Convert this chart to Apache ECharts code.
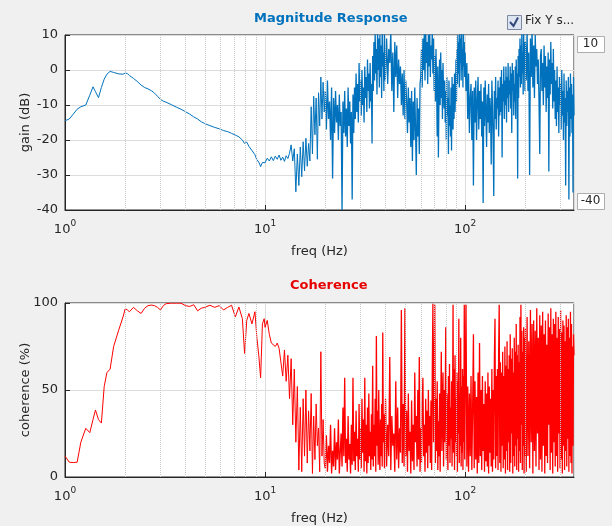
<!DOCTYPE html>
<html><head><meta charset="utf-8">
<script src="https://cdn.jsdelivr.net/npm/echarts@6/dist/echarts.min.js"></script>
<style>html,body{margin:0;padding:0;background:#f0f0f0;}#c{width:612px;height:526px;}</style>
</head><body><div id="c"></div>
<script>
// ---- frequency grid (Hz), shared by both plots ----
const freqLow = [1.0,1.05,1.1,1.15,1.2,1.27,1.33,1.38,1.42,1.47,1.52,1.57,1.62,1.68,1.75,1.85,1.95,2.0,2.05,2.1,2.2,2.3,2.4,2.5,2.6,2.7,2.8,2.9,3.0,3.1,3.2,3.4,3.6,3.8,4.0,4.2,4.4,4.6,4.8,5.0,5.3,5.6,5.9,6.2,6.5,6.8,7.1,7.4,7.7,7.9,8.1,8.3,8.6,8.9,9.1,9.3,9.5,9.7,9.9];
const freqMid = [10.0,10.25,10.5,10.75,11.0,11.25,11.5,11.75,12.0,12.25,12.5,12.75,13.0,13.25,13.5,13.75,14.0,14.25,14.5,14.75,15.0,15.25,15.5,15.75,16.0,16.25,16.5,16.75,17.0,17.25,17.5,17.75,18.0,18.25,18.5,18.75,19.0,19.25,19.5,19.75];
const freqC1 = [
 20,20.25,20.5,20.75,21,21.25,21.5,21.75,22,22.25,
 22.5,22.75,23,23.25,23.5,23.75,24,24.25,24.5,24.75,
 25,25.25,25.5,25.75,26,26.25,26.5,26.75,27,27.25,
 27.5,27.75,28,28.25,28.5,28.75,29,29.25,29.5,29.75,
 30,30.25,30.5,30.75,31,31.25,31.5,31.75,32,32.25,
 32.5,32.75,33,33.25,33.5,33.75,34,34.25,34.5,34.75,
 35,35.25,35.5,35.75,36,36.25,36.5,36.75,37,37.25,
 37.5,37.75,38,38.25,38.5,38.75,39,39.25,39.5,39.75];
const freqC2 = [
 40,40.5,41,41.5,42,42.5,43,43.5,44,44.5,
 45,45.5,46,46.5,47,47.5,48,48.5,49,49.5,
 50,50.5,51,51.5,52,52.5,53,53.5,54,54.5,
 55,55.5,56,56.5,57,57.5,58,58.5,59,59.5,
 60,60.5,61,61.5,62,62.5,63,63.5,64,64.5,
 65,65.5,66,66.5,67,67.5,68,68.5,69,69.5,
 70,70.5,71,71.5,72,72.5,73,73.5,74,74.5,
 75,75.5,76,76.5,77,77.5,78,78.5,79,79.5,
 80,80.5,81,81.5,82,82.5,83,83.5,84,84.5,
 85,85.5,86,86.5,87,87.5,88,88.5,89,89.5,
 90,90.5,91,91.5,92,92.5,93,93.5,94,94.5,
 95,95.5,96,96.5,97,97.5,98,98.5,99,99.5];
const freqC3 = [
 100,101,102,103,104,105,106,107,108,109,
 110,111,112,113,114,115,116,117,118,119,
 120,121,122,123,124,125,126,127,128,129,
 130,131,132,133,134,135,136,137,138,139,
 140,141,142,143,144,145,146,147,148,149,
 150,151,152,153,154,155,156,157,158,159,
 160,161,162,163,164,165,166,167,168,169,
 170,171,172,173,174,175,176,177,178,179,
 180,181,182,183,184,185,186,187,188,189,
 190,191,192,193,194,195,196,197,198,199];
const freqC4 = [
 200,202,204,206,208,210,212,214,216,218,
 220,222,224,226,228,230,232,234,236,238,
 240,242,244,246,248,250,252,254,256,258,
 260,262,264,266,268,270,272,274,276,278,
 280,282,284,286,288,290,292,294,296,298,
 300,302,304,306,308,310,312,314,316,318,
 320,322,324,326,328,330,332,334,336,338,
 340,342,344,346,348,350];

// ---- magnitude response (dB) ----
const gainLow = [-14.5,-14.0,-12.6,-11.2,-10.5,-10.0,-7.2,-4.8,-6.2,-7.9,-5.0,-2.6,-1.2,-0.4,-0.7,-1.1,-1.2,-0.9,-1.0,-1.6,-2.4,-3.3,-4.3,-5.0,-5.4,-5.9,-6.6,-7.5,-8.4,-8.9,-9.2,-9.9,-10.6,-11.2,-11.9,-12.6,-13.4,-14.0,-14.8,-15.3,-15.9,-16.4,-16.8,-17.3,-17.6,-18.1,-18.6,-19.1,-20.0,-21.0,-20.6,-21.8,-23.0,-24.2,-25.7,-26.3,-27.6,-26.4,-26.9];
const gainMid = [-26.5,-25.2,-26.0,-24.8,-25.9,-24.6,-25.5,-24.3,-25.8,-24.9,-26.1,-24.5,-25.3,-23.8,-21.4,-26.0,-22.5,-34.8,-24.0,-33.0,-22.0,-30.5,-20.5,-28.8,-19.5,-27.5,-21.0,-26.0,-10.5,-24.0,-7.5,-18.5,-8.0,-25.5,-6.5,-16.0,-2.0,-14.0,-3.5,-12.0];
const gainC1 = [
 -6,-17,-3,-14,-9,-20,-5,-31,-8,-18,
 -6,-15,-10,-20,-7,-16,-12,-40,-9,-18,
 -6,-19,-11,-22,-5,-16,-9,-21,-12,-37,
 -7,-18,-5,-14,-1,-12,-4,-15,2,-9,
 -3,-13,0,-10,-5,-15,1,-8,-2,-12,
 3,-6,-1,-11,2,-9,-4,-21,4,-6,
 8,-3,11,-1,6,-7,12,0,9,-5,
 10,-2,7,-8,12,1,5,-6,11,-3];
const gainC2 = [
 -1,9,-4,6,2,11,-6,5,-12,8,
 -2,7,-8,3,-4,1,-10,-1,-13,0,
 -14,-3,-9,-18,-5,-15,-8,-22,-6,-26,
 -9,-20,-5,-17,-30,-8,-19,-11,-24,-4,
 -2,6,-5,9,0,11,-3,12,2,8,
 -4,10,1,12,-2,7,3,11,-1,9,
 -6,4,-9,6,-4,-19,1,-25,-7,3,
 -10,5,-8,0,-14,2,-6,-11,-3,-15,
 -6,-20,-2,-13,-8,-24,-3,-16,-10,-19,
 -5,-23,-2,-11,-17,-4,-14,-1,-12,-6,
 3,-9,6,-4,10,-1,8,-5,12,2,
 9,-3,11,0,6,-5,13,1,8,-2];
const gainC3 = [
 5,-6,2,-14,-1,-18,-8,-4,-20,-6,
 -33,-5,-15,-3,-20,-9,-2,-17,-6,-14,
 -4,-19,-9,-38,-5,-16,-3,-12,-22,-7,
 -15,-4,-18,-8,-12,-27,-3,-10,-20,-36,
 -6,-14,-2,-17,-8,-11,-3,-19,-5,-13,
 -2,-12,0,-25,-4,-9,1,-14,-3,-10,
 1,-15,-2,-8,2,-12,-3,-7,1,-11,
 -1,-18,2,-6,0,-13,-4,-9,1,-14,
 3,-6,-1,-31,4,-8,6,-2,9,-5,
 7,-4,11,-1,5,-7,12,0,8,-6];
const gainC4 = [
 8,-3,11,-6,5,-30,9,-2,12,-5,
 7,-8,10,1,6,-4,3,-9,-24,4,
 6,-6,2,-10,7,-5,4,-12,1,-8,
 5,-29,3,-7,8,-4,2,-11,6,-9,
 0,-14,-3,-16,1,-12,-5,-18,-2,-10,
 -4,-17,0,-13,-6,-20,-1,-15,-8,-33,
 -3,-16,-6,-12,-2,-37,-5,-19,-1,-14,
 -4,-18,-7,-35,-2,-13];

// ---- coherence (%) ----
const cohLow = [12,8.5,8.3,8.5,20,28,25.5,33,38.5,33,31,52,60,62,75,84,92,96.8,96,95,97.5,95.5,94,97,98.5,98.8,98.5,97.5,96,98.5,99.6,99.9,99.9,99.9,98.5,98,99,95.5,97,97.5,98.7,97.5,98.5,96,97.5,98.7,92,97.7,91,71,90,94,88,95,80,70,57,88,91];
const cohMid = [86,90,82,77,78,75,77,74,75,58,73,55,70,45,68,30,62,20,52,4,40,3,45,12,50,8,38,15,48,2,35,10,42,18,28,3,72,12,33,8];
const cohC1 = [
 5,24,3,18,8,30,2,15,6,28,
 4,20,10,33,2,14,25,6,40,12,
 57,8,22,3,35,10,19,2,30,7,
 57,9,26,4,38,12,22,3,42,10,
 28,5,45,14,33,3,57,9,30,2,
 40,8,48,12,26,4,36,10,64,6,
 30,12,45,3,81,18,38,7,50,15,
 4,33,12,42,6,83,20,36,5,25];
const cohC2 = [
 45,6,30,12,69,4,35,18,25,3,
 55,10,40,5,28,14,96,8,42,6,
 97,12,38,3,48,15,26,2,44,9,
 30,4,60,20,35,6,50,10,69,3,
 28,8,42,57,12,30,3,45,14,38,
 5,50,18,35,8,44,4,60,99.5,20,
 60,99,8,45,15,55,4,32,12,48,
 3,40,72,15,38,60,6,50,20,44,
 86,10,48,25,4,58,18,65,8,40,
 22,55,6,38,99,14,62,4,70,20,
 45,12,60,3,55,25,91,8,48,18,
 80,6,52,14,62,4,58,20,99,10];
const cohC3 = [
 45,99,6,52,3,48,12,58,4,40,
 82,5,55,10,46,2,60,8,77,12,
 50,4,58,15,42,3,55,9,48,6,
 60,2,52,14,45,6,62,3,50,10,
 68,91,5,58,12,62,4,70,99,8,
 66,3,60,18,72,5,58,10,75,2,
 64,15,78,4,62,20,70,3,82,8,
 68,25,74,2,60,12,80,6,72,18,
 88,4,70,22,76,3,66,15,92,8,
 99,30,84,4,72,18,86,2,80,12];
const cohC4 = [
 85,3,92,12,78,5,96,20,88,2,
 90,15,84,6,97,25,80,4,93,10,
 87,3,95,18,82,2,90,12,76,8,
 94,30,86,4,97,14,82,2,91,20,
 88,6,95,12,80,3,92,25,85,5,
 96,10,83,2,90,18,87,4,78,15,
 93,6,86,22,91,3,80,12,95,8,
 88,2,75,18,82,70];

// ---- axes ----
const minorGridHz = [2,3,4,5,6,7,8,9,20,30,40,50,60,70,80,90,200,300];
const freqMin = 1, freqMax = 350;

const freqHz = [].concat(freqLow, freqMid, freqC1, freqC2, freqC3, freqC4);
const gainDb = [].concat(gainLow, gainMid, gainC1, gainC2, gainC3, gainC4);
const coherencePct = [].concat(cohLow, cohMid, cohC1, cohC2, cohC3, cohC4);
// the smooth part (below 20 Hz) and the noisy part are drawn as two pieces sharing one point
const splitIdx = freqLow.length + freqMid.length;
const pairs = (vals, from, to) => freqHz.slice(from, to).map((f, i) => [f, vals[from + i]]);

const FONT = 'DejaVu Sans';
const TXT = '#262626';

function logLabel(v){
  const e = Math.round(Math.log10(v));
  if (Math.abs(v - Math.pow(10, e)) > 1e-6 * v) return '';
  return '{b|10}{e|' + e + '}';
}
const richSup = {
  b:{fontSize:13, color:TXT, fontFamily:FONT, lineHeight:22, verticalAlign:'middle'},
  e:{fontSize:9, color:TXT, fontFamily:FONT, lineHeight:8, verticalAlign:'top'}
};
function xAx(gi){
  return {
    gridIndex:gi, type:'log', logBase:10, min:freqMin, max:freqMax,
    axisLine:{onZero:false, lineStyle:{color:TXT, width:1}},
    axisTick:{inside:true, length:5, lineStyle:{color:TXT}},
    axisLabel:{formatter:logLabel, rich:richSup, margin:9, showMaxLabel:false},
    splitLine:{show:true, lineStyle:{color:'#dcdcdc', width:1}},
    name:'freq (Hz)', nameLocation:'middle', nameGap:35, nameMoveOverlap:false,
    nameTextStyle:{fontFamily:FONT, fontSize:13, color:TXT}
  };
}
function yAx(gi, min, max, interval, name, gap){
  return {
    gridIndex:gi, type:'value', min:min, max:max, interval:interval,
    axisLine:{show:true, onZero:false, lineStyle:{color:TXT}},
    axisTick:{show:true, inside:true, length:5, lineStyle:{color:TXT}},
    axisLabel:{fontFamily:FONT, fontSize:13, color:TXT, margin:7},
    splitLine:{show:true, lineStyle:{color:'#dcdcdc', width:1}},
    name:name, nameLocation:'middle', nameGap:gap, nameMoveOverlap:false,
    nameTextStyle:{fontFamily:FONT, fontSize:13, color:TXT}
  };
}
function minorLines(xi, yi){
  return {
    type:'line', xAxisIndex:xi, yAxisIndex:yi, data:[], z:1, silent:true,
    markLine:{silent:true, symbol:['none','none'], label:{show:false}, animation:false,
      lineStyle:{type:'dotted', color:'#c8c8c8', width:1},
      data: minorGridHz.map(v => ({xAxis:v}))}
  };
}
function curve(xi, vals, from, to, color, width){
  return {type:'line', xAxisIndex:xi, yAxisIndex:xi, z:3, showSymbol:false, symbol:'none',
    silent:true, lineStyle:{color:color, width:width}, data: pairs(vals, from, to)};
}

const chart = echarts.init(document.getElementById('c'), null, {renderer:'canvas'});
chart.setOption({
  animation:false,
  backgroundColor:'#f0f0f0',
  textStyle:{fontFamily:FONT},
  title:[
    {text:'Magnitude Response', left:249, top:7, textStyle:{fontFamily:FONT, fontSize:13, fontWeight:'bold', color:'#0072BD'}},
    {text:'Coherence', left:285, top:274, textStyle:{fontFamily:FONT, fontSize:13, fontWeight:'bold', color:'#e60000'}}
  ],
  grid:[
    {left:65, top:35, width:509, height:175, show:true, backgroundColor:'#ffffff', borderColor:TXT, borderWidth:1},
    {left:65, top:303, width:509, height:174, show:true, backgroundColor:'#ffffff', borderColor:TXT, borderWidth:1}
  ],
  xAxis:[xAx(0), xAx(1)],
  yAxis:[yAx(0, -40, 10, 10, 'gain (dB)', 33), yAx(1, 0, 100, 50, 'coherence (%)', 33)],
  series:[
    minorLines(0,0),
    minorLines(1,1),
    curve(0, gainDb, 0, splitIdx + 1, '#0072BD', 1),
    curve(0, gainDb, splitIdx, freqHz.length, '#0072BD', 1.3),
    curve(1, coherencePct, 0, splitIdx + 1, '#ff0000', 1),
    curve(1, coherencePct, splitIdx, freqHz.length, '#ff0000', 1.3)
  ],
  graphic:[
    {type:'rect', left:507, top:15, shape:{width:14, height:14}, style:{fill:'#dde4f2', stroke:'#7d89a3', lineWidth:1}},
    {type:'polyline', shape:{points:[[510,22],[513.5,26],[518,17.5]]}, style:{stroke:'#34487a', lineWidth:2, fill:null}},
    {type:'text', left:525, top:15, style:{text:'Fix Y s...', fontFamily:FONT, fontSize:12, fill:TXT}},
    {type:'rect', left:577, top:36, shape:{width:27, height:16}, style:{fill:'#ffffff', stroke:'#adadad', lineWidth:1}},
    {type:'text', x:590.5, y:44, style:{text:'10', fontFamily:FONT, fontSize:12, fill:TXT, align:'center', verticalAlign:'middle'}},
    {type:'rect', left:577, top:193, shape:{width:27, height:16}, style:{fill:'#ffffff', stroke:'#adadad', lineWidth:1}},
    {type:'text', x:590.5, y:201, style:{text:'-40', fontFamily:FONT, fontSize:12, fill:TXT, align:'center', verticalAlign:'middle'}}
  ]
});
</script>
</body></html>
